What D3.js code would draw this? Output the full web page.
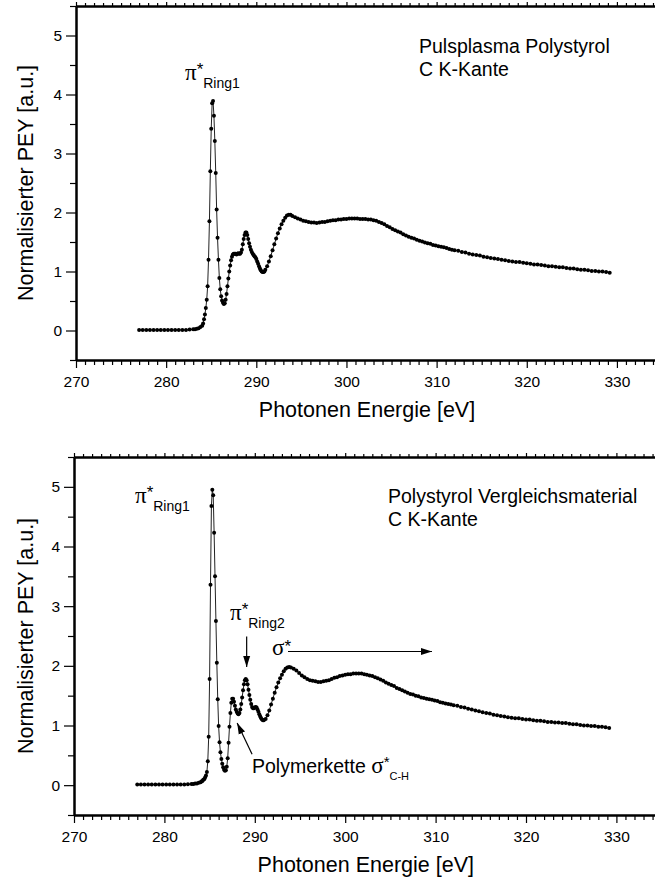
<!DOCTYPE html>
<html>
<head>
<meta charset="utf-8">
<script src="https://cdn.jsdelivr.net/npm/d3@7"></script>
<style>
  body { margin: 0; background: #fff; }
  svg text { font-family: "Liberation Sans", Arial, sans-serif; fill: #000; }
  .sym { font-family: "Liberation Serif", "Times New Roman", serif; }
</style>
</head>
<body>
<div id="chart"></div>
<script>
// Photon energy grid [eV], shared by both spectra
const energy = [
  277.0, 277.4, 277.8, 278.2, 278.6, 279.0, 279.4, 279.8,
  280.2, 280.6, 281.0, 281.4, 281.8, 282.2, 282.6, 283.0,
  283.2, 283.4, 283.6, 283.8,
  284.0, 284.1, 284.2, 284.3, 284.4, 284.5, 284.6, 284.7, 284.8, 284.9,
  285.0, 285.1, 285.2, 285.3, 285.4, 285.5, 285.6, 285.7, 285.8, 285.9,
  286.0, 286.1, 286.2, 286.3, 286.4, 286.5, 286.6, 286.7, 286.8, 286.9,
  287.0, 287.1, 287.2, 287.3, 287.4, 287.5, 287.6, 287.7, 287.8, 287.9,
  288.0, 288.1, 288.2, 288.3, 288.4, 288.5, 288.6, 288.7, 288.8, 288.9,
  289.0, 289.1, 289.2, 289.3, 289.4, 289.5, 289.6, 289.7, 289.8, 289.9,
  290.0, 290.1, 290.2, 290.3, 290.4, 290.5, 290.6, 290.7, 290.8, 290.9,
  291.0, 291.2, 291.4, 291.6, 291.8, 292.0, 292.2, 292.4, 292.6, 292.8,
  293.0, 293.2, 293.4, 293.6, 293.8, 294.0, 294.3, 294.6, 294.9, 295.2,
  295.5, 295.8, 296.1, 296.4, 296.7, 297.0, 297.3, 297.6, 297.9, 298.2,
  298.5, 298.8, 299.1, 299.4, 299.7, 300.0, 300.3, 300.6, 300.9, 301.2,
  301.5, 301.8, 302.1, 302.4, 302.7, 303.0, 303.3, 303.6, 303.9, 304.2,
  304.5, 304.8, 305.1, 305.4, 305.7, 306.0, 306.3, 306.6, 306.9, 307.2,
  307.5, 307.8, 308.1, 308.4, 308.7, 309.0, 309.3, 309.6, 309.9, 310.2,
  310.5, 310.8, 311.1, 311.4, 311.7, 312.0,
  312.4, 312.8, 313.2, 313.6, 314.0, 314.4, 314.8, 315.2, 315.6, 316.0,
  316.4, 316.8, 317.2, 317.6, 318.0, 318.4, 318.8, 319.2, 319.6, 320.0,
  320.4, 320.8, 321.2, 321.6, 322.0, 322.4, 322.8, 323.2, 323.6, 324.0,
  324.4, 324.8, 325.2, 325.6, 326.0, 326.4, 326.8, 327.2, 327.6, 328.0,
  328.4, 328.8, 329.2
];

// Normalised PEY, pulsed-plasma polystyrene (top panel)
const pulsplasma = [
  0.01, 0.01, 0.01, 0.01, 0.01, 0.01, 0.01, 0.01,
  0.01, 0.01, 0.01, 0.01, 0.01, 0.01, 0.015, 0.02,
  0.02, 0.03, 0.04, 0.06,
  0.08, 0.12, 0.19, 0.27, 0.38, 0.52, 0.75, 1.20, 1.85, 2.70,
  3.42, 3.85, 3.89, 3.64, 3.21, 2.67, 2.05, 1.57, 1.20, 0.89,
  0.70, 0.58, 0.51, 0.47, 0.45, 0.46, 0.52, 0.62, 0.75, 0.88,
  1.00, 1.10, 1.19, 1.25, 1.29, 1.30, 1.30, 1.30, 1.29, 1.30,
  1.31, 1.30, 1.30, 1.32, 1.37, 1.46, 1.55, 1.62, 1.66, 1.66,
  1.62, 1.55, 1.48, 1.42, 1.37, 1.33, 1.30, 1.28, 1.26, 1.24,
  1.21, 1.17, 1.13, 1.09, 1.05, 1.02, 1.00, 0.99, 0.99, 1.00,
  1.03, 1.09, 1.17, 1.26, 1.36, 1.46, 1.56, 1.65, 1.73, 1.80,
  1.86, 1.91, 1.95, 1.96, 1.96, 1.94, 1.92, 1.90, 1.88, 1.86,
  1.85, 1.84, 1.83, 1.83, 1.82, 1.83, 1.84, 1.84, 1.85, 1.86,
  1.87, 1.87, 1.88, 1.88, 1.89, 1.89, 1.90, 1.90, 1.90, 1.90,
  1.89, 1.89, 1.89, 1.88, 1.88, 1.87, 1.86, 1.84, 1.82, 1.80,
  1.77, 1.75, 1.72, 1.70, 1.68, 1.66, 1.63, 1.61, 1.59, 1.57,
  1.56, 1.54, 1.52, 1.51, 1.49, 1.48, 1.47, 1.45, 1.44, 1.43,
  1.42, 1.41, 1.40, 1.38, 1.37, 1.36,
  1.35, 1.33, 1.32, 1.30, 1.29, 1.28, 1.27, 1.25, 1.24, 1.23,
  1.22, 1.21, 1.20, 1.19, 1.18, 1.17, 1.16, 1.16, 1.15, 1.14,
  1.13, 1.12, 1.12, 1.11, 1.10, 1.09, 1.09, 1.08, 1.07, 1.07,
  1.06, 1.05, 1.05, 1.04, 1.03, 1.03, 1.02, 1.01, 1.01, 1.00,
  1.00, 0.99, 0.98
];

// Normalised PEY, reference polystyrene (bottom panel)
const vergleich = [
  0.01, 0.01, 0.01, 0.01, 0.01, 0.01, 0.01, 0.01,
  0.01, 0.01, 0.01, 0.01, 0.01, 0.01, 0.015, 0.02,
  0.02, 0.03, 0.03, 0.04,
  0.05, 0.06, 0.07, 0.09, 0.10, 0.13, 0.16, 0.22, 0.40, 0.81,
  1.78, 3.36, 4.68, 4.95, 4.86, 4.23, 3.50, 2.75, 2.05, 1.44,
  0.99, 0.72, 0.55, 0.44, 0.36, 0.30, 0.26, 0.24, 0.25, 0.31,
  0.45, 0.71, 0.98, 1.21, 1.38, 1.45, 1.45, 1.40, 1.33, 1.27,
  1.23, 1.20, 1.19, 1.21, 1.27, 1.36, 1.47, 1.59, 1.69, 1.76,
  1.78, 1.76, 1.69, 1.60, 1.51, 1.43, 1.36, 1.31, 1.29, 1.29,
  1.30, 1.31, 1.30, 1.27, 1.23, 1.19, 1.15, 1.12, 1.10, 1.09,
  1.09, 1.11, 1.17, 1.25, 1.35, 1.45, 1.55, 1.64, 1.72, 1.79,
  1.85, 1.91, 1.95, 1.97, 1.98, 1.97, 1.95, 1.92, 1.88, 1.84,
  1.81, 1.78, 1.76, 1.75, 1.74, 1.73, 1.73, 1.74, 1.75, 1.76,
  1.78, 1.80, 1.81, 1.83, 1.84, 1.85, 1.86, 1.86, 1.87, 1.87,
  1.87, 1.87, 1.86, 1.85, 1.84, 1.83, 1.81, 1.79, 1.77, 1.75,
  1.72, 1.70, 1.68, 1.66, 1.63, 1.61, 1.59, 1.57, 1.55, 1.53,
  1.52, 1.50, 1.49, 1.47, 1.46, 1.45, 1.44, 1.43, 1.42, 1.41,
  1.39, 1.38, 1.37, 1.36, 1.35, 1.34,
  1.33, 1.31, 1.30, 1.28, 1.27, 1.25, 1.24, 1.22, 1.21, 1.20,
  1.18, 1.17, 1.16, 1.15, 1.14, 1.13, 1.12, 1.12, 1.11, 1.10,
  1.10, 1.09, 1.08, 1.08, 1.07, 1.06, 1.06, 1.05, 1.05, 1.04,
  1.04, 1.03, 1.02, 1.02, 1.01, 1.00, 1.00, 0.99, 0.99, 0.98,
  0.98, 0.97, 0.96
];

const xMajor = [270, 280, 290, 300, 310, 320, 330];
const yMajor = [0, 1, 2, 3, 4, 5];
const xTitle = 'Photonen Energie [eV]';
const yTitle = 'Normalisierter PEY [a.u.]';

const W = 655, H = 881;
const svg = d3.select('#chart').append('svg')
  .attr('width', W).attr('height', H);

// arrowhead
svg.append('defs').append('marker')
  .attr('id', 'arrow')
  .attr('markerUnits', 'userSpaceOnUse')
  .attr('viewBox', '0 -4 11 8')
  .attr('refX', 11).attr('refY', 0)
  .attr('markerWidth', 11).attr('markerHeight', 8)
  .attr('orient', 'auto')
  .append('path').attr('d', 'M0,-3.5L11,0L0,3.5Z').attr('fill', '#000');

const panels = [
  { values: pulsplasma, left: 76, right: 662, top: 6, bottom: 360,
    note: ['Pulsplasma Polystyrol', 'C K-Kante'], noteX: 419, noteY: 53 },
  { values: vergleich, left: 74, right: 661.6, top: 457, bottom: 815,
    note: ['Polystyrol Vergleichsmaterial', 'C K-Kante'], noteX: 388, noteY: 503 }
];

function drawPanel(p) {
  const x = d3.scaleLinear().domain([270, 335]).range([p.left, p.right]);
  const y = d3.scaleLinear().domain([-0.5, 5.5]).range([p.bottom, p.top]);
  const g = svg.append('g');

  const xMinor = d3.range(270, 336, 1).filter(v => !xMajor.includes(v));
  const yMinor = d3.range(-0.5, 5.51, 0.5).filter(v => !yMajor.includes(v));

  // bottom axis
  const gx = g.append('g').attr('transform', `translate(0,${p.bottom})`);
  gx.append('g').call(d3.axisBottom(x).tickValues(xMinor).tickSize(5).tickSizeOuter(0).tickFormat(''));
  gx.append('g').call(d3.axisBottom(x).tickValues(xMajor).tickSize(8).tickSizeOuter(0).tickPadding(8).tickFormat(d3.format('d')));
  // top axis (ticks only)
  const gt = g.append('g').attr('transform', `translate(0,${p.top})`);
  gt.append('g').call(d3.axisTop(x).tickValues(xMinor).tickSize(3).tickSizeOuter(0).tickFormat(''));
  gt.append('g').call(d3.axisTop(x).tickValues(xMajor).tickSize(4).tickSizeOuter(0).tickFormat(''));
  // left axis
  const gy = g.append('g').attr('transform', `translate(${p.left},0)`);
  gy.append('g').call(d3.axisLeft(y).tickValues(yMinor).tickSize(6).tickSizeOuter(0).tickFormat(''));
  gy.append('g').call(d3.axisLeft(y).tickValues(yMajor).tickSize(10).tickSizeOuter(0).tickPadding(4).tickFormat(d3.format('d')));

  g.selectAll('.domain').attr('stroke', '#000').attr('stroke-width', 2);
  g.selectAll('.tick line').attr('stroke', '#000').attr('stroke-width', 1.2);
  g.selectAll('.tick text').attr('font-size', 15.5).attr('fill', '#000');

  // axis titles
  g.append('text')
    .attr('x', (p.left + p.right) / 2 - 2).attr('y', p.bottom + 57)
    .attr('text-anchor', 'middle').attr('font-size', 21.5)
    .text(xTitle);
  g.append('text')
    .attr('transform', `translate(33,${(p.top + p.bottom) / 2})rotate(-90)`)
    .attr('text-anchor', 'middle').attr('font-size', 21.5)
    .text(yTitle);

  // spectrum: thin line plus dots
  const pts = energy.map((e, i) => [e, p.values[i]]);
  g.append('path')
    .datum(pts)
    .attr('fill', 'none').attr('stroke', '#222').attr('stroke-width', 1)
    .attr('d', d3.line().x(d => x(d[0])).y(d => y(d[1])));
  g.selectAll('circle.pt').data(pts).join('circle')
    .attr('class', 'pt')
    .attr('cx', d => x(d[0])).attr('cy', d => y(d[1]))
    .attr('r', 2).attr('fill', '#000');

  // sample note
  const t = g.append('text').attr('font-size', 19.5);
  p.note.forEach((s, i) => t.append('tspan').attr('x', p.noteX).attr('y', p.noteY + i * 23).text(s));

  return { g, x, y };
}

function piLabel(g, px, py, sym, sub) {
  const t = g.append('text').attr('x', px).attr('y', py);
  t.append('tspan').attr('class', 'sym').attr('font-size', 23).text(sym);
  t.append('tspan').attr('font-size', 17).attr('dy', -5).text('*');
  t.append('tspan').attr('font-size', 14).attr('dy', 13).text(sub);
  return t;
}

const topPanel = drawPanel(panels[0]);
piLabel(topPanel.g, 185, 80, 'π', 'Ring1');

const botPanel = drawPanel(panels[1]);
piLabel(botPanel.g, 135, 503, 'π', 'Ring1');
piLabel(botPanel.g, 230, 620, 'π', 'Ring2');

// sigma* label with long arrow
const sg = botPanel.g.append('text').attr('x', 272).attr('y', 655);
sg.append('tspan').attr('class', 'sym').attr('font-size', 23).text('σ');
sg.append('tspan').attr('font-size', 17).attr('dy', -3).text('*');
botPanel.g.append('line')
  .attr('x1', 288).attr('y1', botPanel.y(2.24))
  .attr('x2', botPanel.x(309.6)).attr('y2', botPanel.y(2.24))
  .attr('stroke', '#000').attr('stroke-width', 1.2).attr('marker-end', 'url(#arrow)');

// pi* Ring2 arrow down to peak
botPanel.g.append('line')
  .attr('x1', botPanel.x(289.1)).attr('y1', botPanel.y(2.49))
  .attr('x2', botPanel.x(289.1)).attr('y2', botPanel.y(1.98))
  .attr('stroke', '#000').attr('stroke-width', 1.2).attr('marker-end', 'url(#arrow)');

// Polymerkette sigma*C-H label and arrow
botPanel.g.append('line')
  .attr('x1', botPanel.x(289.7)).attr('y1', botPanel.y(0.52))
  .attr('x2', botPanel.x(288.05)).attr('y2', botPanel.y(1.04))
  .attr('stroke', '#000').attr('stroke-width', 1.2).attr('marker-end', 'url(#arrow)');
const pk = botPanel.g.append('text').attr('x', 252).attr('y', 773).attr('font-size', 19.5);
pk.append('tspan').text('Polymerkette ');
pk.append('tspan').attr('class', 'sym').attr('font-size', 23).text('σ');
pk.append('tspan').attr('font-size', 15).attr('dy', -6).text('*');
pk.append('tspan').attr('font-size', 11).attr('dy', 13).text('C-H');
</script>
</body>
</html>
